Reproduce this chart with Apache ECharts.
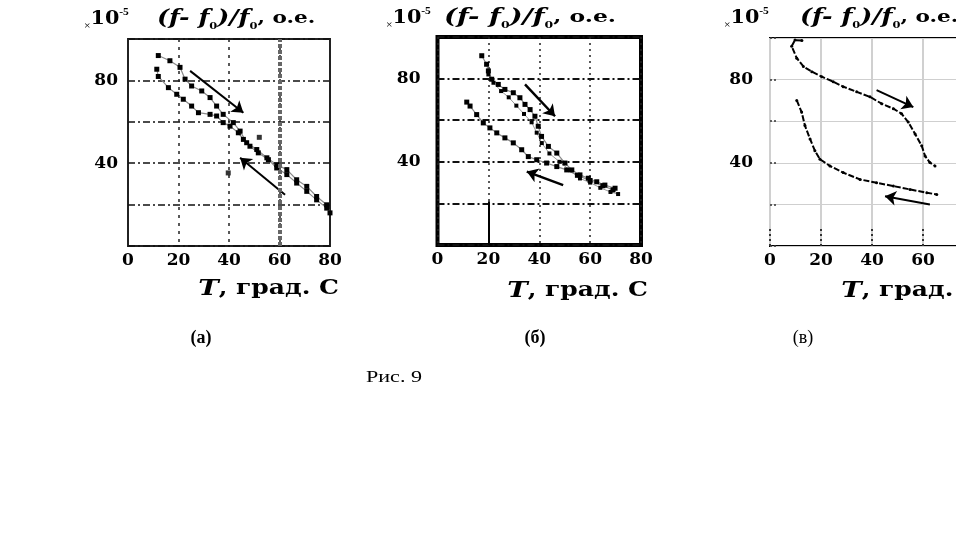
<!DOCTYPE html>
<html><head><meta charset="utf-8">
<script src="https://cdn.jsdelivr.net/npm/echarts@6/dist/echarts.min.js"></script>
<style>html,body{margin:0;padding:0;background:#fff}#c{width:956px;height:554px}</style>
</head><body><div id="c"></div>
<script>
// ---- data (T in °C, (f-f0)/f0 in 1e-5) ----
const xTicks = [0, 20, 40, 60, 80];
const yTickLabels = [40, 80];

// (а)
const aHeatT = [12,16.6,20.6,22.6,25.2,29.2,32.5,35.1,37.7,41.7,44.4,47,51,55,58.9,62.9,66.8,70.8,74.7,78.7,80];
const aHeatY = [92,89.5,86.3,80.6,77.3,74.9,71.7,67.6,63.6,59.6,55.5,49.9,46.6,42.6,39.3,36.9,32,28.8,23.9,19.9,16];
const aCoolT = [11.4,12,16,19.3,21.9,25.2,27.9,32.5,35.1,37.7,40.4,43.7,45.7,48.3,51.6,55.6,58.9,62.9,66.8,70.8,74.7,78.7];
const aCoolY = [85.4,81.9,76.5,73.3,70.9,67.6,64.4,63.6,62.8,59.6,57.9,54.7,51.5,48.2,45,41.7,37.7,34.5,30.4,26.4,22.3,18.3];
const aExtra = [[39.7,35.3],[52,52.5]];
const aArrows = [[[24.6,84.6],[45.7,64.4]], [[62.2,24.8],[44.4,42.6]]];

// (б)
const bUpT = [17.4,19.3,20,21.3,23.9,26.5,29.8,32.4,34.4,36.4,38.3,39.6,40.9,43.6,46.9,50.1,52.8,56,59.3,62.6,65.8,69.8];
const bUpY = [91,86.9,83.7,79.7,77.2,74.8,73.2,70.8,67.6,65.1,61.9,57.1,52.2,47.4,44.2,39.4,36.1,33.7,32.1,30.4,28.8,27.3];
const bMidT = [20,22,25,28,31,34,37,39,41,44,48,52,56,60,64,68,71];
const bMidY = [82,78,74,71,67,63,59,54,49,44,40,36,32,30,27.5,25.5,24.5];
const bLowT = [11.5,12.8,15.4,18,20.6,23.3,26.5,29.8,33.1,35.7,39,42.9,46.9,50.8,55,60,65,69];
const bLowY = [68.7,66.8,62.7,58.7,56.3,53.9,51.5,49.1,45.8,42.5,41,39.4,37.7,36.1,33.5,31,28.5,26.5];
const bArrows = [[[34.4,77.2],[46.2,61.9]], [[49.4,28.8],[35.1,35.3]]];
const bMarks = [[[20,0],[20,21]]];

// (в)
const cUpT = [12.5,9.8,8.5,10.5,13.1,16.4,20.3,24.8,28.7,34,39.2,43.8,48.4,51.6,54.2,56.9,59.5,60.8,62.7,64.7];
const cUpY = [98.8,99,96,90.3,86.3,83.8,81.4,79,76.6,74.1,71.7,68.4,66,63.6,59.6,53.9,48.2,43.3,40.1,38.5];
const cLowT = [10.5,12.4,13.7,15.7,17.6,19.6,23.5,28.7,35.3,41.8,48.4,54.9,61.5,65.4];
const cLowY = [70,64.4,57.9,51.5,45.8,41.7,38.5,35.3,32,30.4,28.8,27.2,25.6,24.8];
const cArrows = [[[41.8,74.9],[56.2,66.8]], [[62.7,19.9],[45.1,23.9]]];

const captions = ['(а)', '(б)', '(в)'];
const figCaption = 'Рис. 9';

// ---- helpers ----
const SERIF = 'DejaVu Serif';
const TSERIF = 'Liberation Serif';
const zip = (xs, ys) => xs.map((x, i) => [x, ys[i]]);

function xAxisCfg(i, split, extra) {
  return Object.assign({
    type: 'value', gridIndex: i, min: xTicks[0], max: xTicks[xTicks.length-1], interval: 20,
    axisLine: {show: false}, axisTick: {show: false},
    axisLabel: {fontFamily: SERIF, fontWeight: 'bold', fontSize: 17, color: '#000', margin: 6},
    splitLine: {show: true, lineStyle: split}
  }, extra || {});
}
function yAxisCfg(i, split, margin, extra) {
  return Object.assign({
    type: 'value', gridIndex: i, min: 0, max: 100, interval: 20,
    axisLine: {show: false}, axisTick: {show: false},
    axisLabel: {fontFamily: SERIF, fontWeight: 'bold', fontSize: 17, color: '#000', margin: margin,
      formatter: v => yTickLabels.indexOf(v) >= 0 ? String(v) : ''},
    splitLine: {show: true, lineStyle: split}
  }, extra || {});
}
function curve(i, data, style) {
  return Object.assign({
    type: 'line', xAxisIndex: i, yAxisIndex: i, data: data, smooth: false,
    symbol: 'rect', symbolSize: 5, itemStyle: {color: '#000'},
    lineStyle: {color: '#8a8a8a', width: 1.2}, silent: true
  }, style || {});
}
function arrows(i, list, w) {
  return {
    type: 'lines', coordinateSystem: 'cartesian2d', xAxisIndex: i, yAxisIndex: i,
    symbol: ['none', 'arrow'], symbolSize: 11, silent: true,
    lineStyle: {color: '#000', width: w || 2, opacity: 1},
    data: list.map(c => ({coords: c}))
  };
}
function titleEls(x1, x2, y, sx) {
  return [
    {type: 'text', x: x1, y: y, scaleX: 1.15, style: {
      text: '{x|×}{t|10}{s|-5}', verticalAlign: 'middle',
      rich: {
        x: {fontSize: 10, fontFamily: TSERIF, fill: '#000', lineHeight: 12, verticalAlign: 'bottom'},
        t: {fontSize: 18, fontFamily: SERIF, fontWeight: 'bold', fill: '#000', lineHeight: 24},
        s: {fontSize: 10, fontFamily: TSERIF, fontWeight: 'bold', fill: '#000', lineHeight: 12, verticalAlign: 'top'}
      }}},
    {type: 'text', x: x2, y: y, scaleX: sx, style: {
      text: '{f|(f- f}{b|0}{f|)/f}{b|0}{n|, o.e.}', verticalAlign: 'middle',
      rich: {
        f: {fontSize: 20, fontFamily: SERIF, fontWeight: 'bold', fontStyle: 'italic', fill: '#000', lineHeight: 24},
        b: {fontSize: 9, fontFamily: SERIF, fontWeight: 'bold', fill: '#000', lineHeight: 10, verticalAlign: 'bottom'},
        n: {fontSize: 17, fontFamily: SERIF, fontWeight: 'bold', fill: '#000', lineHeight: 24}
      }}}
  ];
}
function xNameEl(xRight, y) {
  return {type: 'text', x: xRight, y: y, scaleX: 1.25, style: {
    text: '{i|T}{r|, град. C}', align: 'right', verticalAlign: 'middle',
    rich: {
      i: {fontSize: 22, fontFamily: SERIF, fontWeight: 'bold', fontStyle: 'italic', fill: '#000'},
      r: {fontSize: 20, fontFamily: SERIF, fontWeight: 'bold', fill: '#000'}
    }}};
}
function plainText(x, y, txt, size, weight, sx) {
  return {type: 'text', x: x, y: y, scaleX: sx || 1, style: {text: txt, align: 'center', verticalAlign: 'middle',
    font: (weight || 'normal') + ' ' + size + 'px "' + TSERIF + '"', fill: '#000'}};
}

const grids = [
  {left: 128, top: 39, right: 626, bottom: 308, show: true, borderColor: '#222', borderWidth: 2, outerBoundsMode: 'none'},
  {left: 437.5, top: 37, right: 315, bottom: 309, show: true, borderColor: '#000', borderWidth: 4, outerBoundsMode: 'none'},
  {left: 770, top: 38, right: -18, bottom: 308, show: true, borderColor: '#000', borderWidth: 2, outerBoundsMode: 'none'}
];

const option = {
  animation: false,
  backgroundColor: '#fff',
  grid: grids,
  xAxis: [
    xAxisCfg(0, {color: '#222', type: [3, 5], width: 1.5}),
    xAxisCfg(1, {color: '#222', type: [2, 4], width: 1.5}),
    xAxisCfg(2, {color: '#d0d0d0', width: 2},
      {axisTick: {show: true, inside: true, length: 18, lineStyle: {color: '#333', type: [2, 3], width: 2}}})
  ],
  yAxis: [
    yAxisCfg(0, {color: '#111', type: [7, 3, 2, 3], width: 1.5}, 10),
    yAxisCfg(1, {color: '#111', type: [7, 3, 2, 3], width: 2}, 17),
    yAxisCfg(2, {color: '#cfcfcf', width: 1}, 17,
      {axisTick: {show: true, inside: true, length: 7, lineStyle: {color: '#333', type: [2, 2], width: 1.5}}})
  ],
  series: [
    // (а)
    curve(0, zip(aHeatT, aHeatY), {markLine: {silent: true, symbol: 'none', label: {show: false},
      lineStyle: {color: '#666', type: [4, 2], width: 4}, data: [{xAxis: 60}]}}),
    curve(0, zip(aCoolT, aCoolY)),
    {type: 'scatter', xAxisIndex: 0, yAxisIndex: 0, data: aExtra, symbol: 'rect', symbolSize: 5, itemStyle: {color: '#000'}, silent: true},
    arrows(0, aArrows, 2),
    // (б)
    curve(1, zip(bUpT, bUpY)),
    curve(1, zip(bMidT, bMidY), {symbolSize: 4, lineStyle: {color: '#999', width: 1}}),
    curve(1, zip(bLowT, bLowY)),
    arrows(1, bArrows, 2.5),
    {type: 'lines', coordinateSystem: 'cartesian2d', xAxisIndex: 1, yAxisIndex: 1, silent: true,
      lineStyle: {color: '#000', width: 2, opacity: 1}, data: bMarks.map(c => ({coords: c}))},
    // (в)
    curve(2, zip(cUpT, cUpY), {symbol: 'circle', symbolSize: 3, lineStyle: {color: '#000', width: 2, type: [6, 2]}}),
    curve(2, zip(cLowT, cLowY), {symbol: 'circle', symbolSize: 3, lineStyle: {color: '#000', width: 2, type: [6, 2]}}),
    arrows(2, cArrows, 2)
  ],
  graphic: [].concat(
    titleEls(84, 157, 19, 1.27),
    titleEls(386, 444, 18, 1.38),
    titleEls(724, 800, 18, 1.27),
    [xNameEl(339, 289), xNameEl(648, 291), xNameEl(982, 291)],
    [plainText(201, 338, captions[0], 18, 'bold'), plainText(535, 338, captions[1], 18, 'bold'),
     plainText(803, 338, captions[2], 18, 'normal'), plainText(394, 378, figCaption, 17, 'normal', 1.3)]
  )
};

const chart = echarts.init(document.getElementById('c'), null, {renderer: 'canvas'});
chart.setOption(option);
</script>
</body></html>
